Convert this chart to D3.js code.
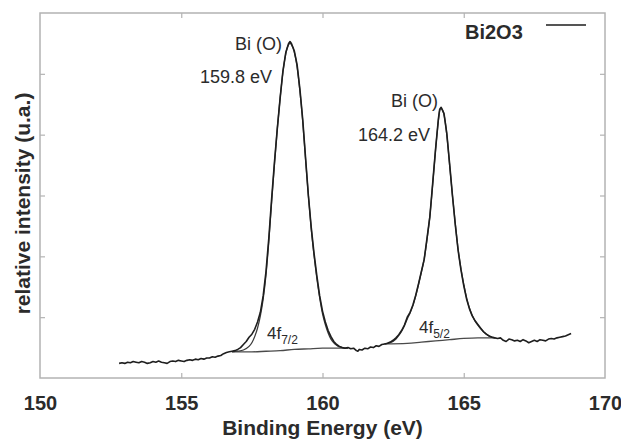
<!DOCTYPE html>
<html>
<head>
<meta charset="utf-8">
<script src="https://cdn.jsdelivr.net/npm/d3@7"></script>
<style>
html,body{margin:0;padding:0;background:#fff;}
svg{display:block;}
text{font-family:"Liberation Sans",Arial,sans-serif;fill:#2b2b2b;}
</style>
</head>
<body>
<svg id="chart" width="621" height="439"></svg>
<script>
// ---- data (binding energy eV, relative intensity) ----
const xTicks = [150, 155, 160, 165, 170];
const yTicks = [1, 2, 3, 4, 5];
const seriesName = "Bi2O3";

const rawSpectrum = [
[152.8,0.24],[152.9,0.25],[153.0,0.24],[153.1,0.26],[153.2,0.25],[153.3,0.27],[153.4,0.26],[153.5,0.25],[153.6,0.27],[153.7,0.26],[153.8,0.24],[153.9,0.25],[154.0,0.27],[154.1,0.26],[154.2,0.28],[154.3,0.26],[154.4,0.25],[154.5,0.24],[154.6,0.27],[154.7,0.28],[154.8,0.27],[154.9,0.29],[155.0,0.28],[155.1,0.27],[155.2,0.29],[155.3,0.30],[155.4,0.29],[155.5,0.31],[155.6,0.30],[155.7,0.32],[155.8,0.31],[155.9,0.33],[156.0,0.33],[156.1,0.35],[156.2,0.34],[156.3,0.36],[156.4,0.37],[156.5,0.40],[156.6,0.42],[156.7,0.43],[156.8,0.44],[156.9,0.45],[157.0,0.47],[157.1,0.50],[157.2,0.55],[157.3,0.60],[157.4,0.67],[157.5,0.72],[157.6,0.80],[157.7,0.92],[157.8,1.08],[157.9,1.35],[158.0,1.75],[158.1,2.30],[158.2,2.95],[158.3,3.55],[158.4,4.10],[158.5,4.60],[158.6,5.05],[158.7,5.35],[158.8,5.50],[158.85,5.53],[158.9,5.50],[159.0,5.38],[159.1,5.15],[159.2,4.75],[159.3,4.25],[159.4,3.62],[159.5,3.00],[159.6,2.48],[159.7,2.05],[159.8,1.68],[159.9,1.35],[160.0,1.10],[160.1,0.92],[160.2,0.78],[160.3,0.68],[160.4,0.60],[160.5,0.55],[160.6,0.52],[160.7,0.50],[160.8,0.49],[160.9,0.50],[161.0,0.48],[161.1,0.49],[161.2,0.45],[161.25,0.44],[161.3,0.47],[161.4,0.46],[161.5,0.49],[161.6,0.48],[161.7,0.51],[161.8,0.50],[161.9,0.53],[162.0,0.52],[162.1,0.55],[162.2,0.56],[162.3,0.57],[162.4,0.59],[162.5,0.62],[162.6,0.66],[162.7,0.71],[162.8,0.78],[162.9,0.87],[163.0,1.00],[163.1,1.08],[163.2,1.20],[163.3,1.36],[163.4,1.55],[163.5,1.75],[163.6,1.95],[163.7,2.30],[163.8,2.65],[163.9,3.20],[164.0,3.75],[164.1,4.25],[164.15,4.42],[164.2,4.45],[164.3,4.35],[164.4,4.02],[164.5,3.52],[164.6,3.00],[164.7,2.52],[164.8,2.10],[164.9,1.78],[165.0,1.52],[165.1,1.30],[165.2,1.14],[165.3,1.02],[165.4,0.94],[165.5,0.88],[165.6,0.82],[165.7,0.76],[165.8,0.72],[165.9,0.69],[166.0,0.67],[166.1,0.66],[166.2,0.65],[166.3,0.66],[166.4,0.62],[166.5,0.60],[166.6,0.64],[166.7,0.63],[166.8,0.61],[166.9,0.62],[167.0,0.60],[167.1,0.63],[167.2,0.61],[167.3,0.58],[167.4,0.60],[167.5,0.62],[167.6,0.60],[167.7,0.63],[167.8,0.62],[167.9,0.61],[168.0,0.64],[168.1,0.65],[168.2,0.64],[168.3,0.66],[168.4,0.67],[168.5,0.68],[168.6,0.69],[168.7,0.71],[168.8,0.73]
];

const fitPeak1 = [
[156.8,0.43],[157.0,0.44],[157.2,0.46],[157.4,0.52],[157.5,0.58],[157.6,0.68],[157.7,0.82],[157.8,1.02],[157.9,1.30],[158.0,1.70],[158.1,2.25],[158.2,2.90],[158.3,3.52],[158.4,4.10],[158.5,4.60],[158.6,5.03],[158.7,5.33],[158.8,5.48],[158.85,5.50],[158.9,5.48],[159.0,5.36],[159.1,5.12],[159.2,4.72],[159.3,4.22],[159.4,3.60],[159.5,3.00],[159.6,2.46],[159.7,2.02],[159.8,1.64],[159.9,1.32],[160.0,1.06],[160.1,0.88],[160.2,0.74],[160.3,0.64],[160.4,0.58],[160.5,0.54],[160.6,0.51],[160.7,0.50],[160.8,0.49],[160.9,0.49]
];

const fitPeak2 = [
[162.2,0.56],[162.4,0.58],[162.6,0.64],[162.7,0.70],[162.8,0.77],[162.9,0.86],[163.0,0.97],[163.1,1.07],[163.2,1.19],[163.3,1.35],[163.4,1.54],[163.5,1.74],[163.6,1.96],[163.7,2.28],[163.8,2.66],[163.9,3.18],[164.0,3.74],[164.1,4.22],[164.15,4.40],[164.2,4.43],[164.3,4.33],[164.4,4.00],[164.5,3.50],[164.6,3.00],[164.7,2.54],[164.8,2.12],[164.9,1.80],[165.0,1.54],[165.1,1.32],[165.2,1.15],[165.3,1.03],[165.4,0.94],[165.5,0.87],[165.6,0.81],[165.7,0.76],[165.8,0.72],[165.9,0.69],[166.0,0.67],[166.1,0.66]
];

const background1 = [[156.8,0.43],[157.5,0.43],[158.0,0.44],[158.5,0.45],[159.0,0.47],[159.5,0.48],[160.0,0.49],[160.9,0.49]];
const background2 = [[162.2,0.56],[163.0,0.57],[163.5,0.59],[164.0,0.61],[164.5,0.63],[165.0,0.65],[165.5,0.66],[166.1,0.66]];

const peakLabels = [
  {name: "Bi (O)", energy: "159.8 eV", be: 158.85, level: "7/2"},
  {name: "Bi (O)", energy: "164.2 eV", be: 164.2, level: "5/2"}
];

// ---- layout ----
const svg = d3.select("#chart");
const x = d3.scaleLinear().domain([150, 170]).range([40, 605]);
const y = d3.scaleLinear().domain([0, 6]).range([378, 13]);
const boxColor = "#b3b3b3";

// frame
svg.append("rect")
  .attr("x", x(150)).attr("y", y(6))
  .attr("width", x(170) - x(150)).attr("height", y(0) - y(6))
  .attr("fill", "none").attr("stroke", boxColor).attr("stroke-width", 1.5);

function styleAxis(g){
  g.select(".domain").remove();
  g.selectAll(".tick line").attr("stroke", boxColor).attr("stroke-width", 1.2);
}

const gx = svg.append("g").attr("transform", `translate(0,${y(0)})`)
  .call(d3.axisBottom(x).tickValues(xTicks).tickSizeInner(-5).tickSizeOuter(0).tickPadding(18).tickFormat(d3.format("d")));
styleAxis(gx);
gx.selectAll(".tick text").attr("font-size", 20).attr("font-weight", "bold")
  .attr("fill", "#2b2b2b").attr("font-family", "Liberation Sans, Arial, sans-serif");
gx.selectAll(".tick").filter(d => d === 150 || d === 170).select("line").remove();

const gt = svg.append("g").attr("transform", `translate(0,${y(6)})`)
  .call(d3.axisTop(x).tickValues([155,160,165]).tickSizeInner(-5).tickSizeOuter(0).tickFormat(""));
styleAxis(gt);

const gl = svg.append("g").attr("transform", `translate(${x(150)},0)`)
  .call(d3.axisLeft(y).tickValues(yTicks).tickSizeInner(-5).tickSizeOuter(0).tickFormat(""));
styleAxis(gl);
const gr = svg.append("g").attr("transform", `translate(${x(170)},0)`)
  .call(d3.axisRight(y).tickValues(yTicks).tickSizeInner(-5).tickSizeOuter(0).tickFormat(""));
styleAxis(gr);

// axis titles
svg.append("text")
  .attr("x", (x(150) + x(170)) / 2).attr("y", 435)
  .attr("text-anchor", "middle").attr("font-size", 21).attr("font-weight", "bold")
  .text("Binding Energy (eV)");
svg.append("text")
  .attr("transform", `translate(30,${(y(0) + y(6)) / 2 + 8}) rotate(-90)`)
  .attr("text-anchor", "middle").attr("font-size", 21).attr("font-weight", "bold")
  .text("relative intensity (u.a.)");

// lines
const line = d3.line().x(d => x(d[0])).y(d => y(d[1]));
const smooth = d3.line().x(d => x(d[0])).y(d => y(d[1])).curve(d3.curveMonotoneX);

[background1, background2].forEach(b => {
  svg.append("path").datum(b).attr("d", smooth)
    .attr("fill", "none").attr("stroke", "#4a4a4a").attr("stroke-width", 1.3);
});
[fitPeak1, fitPeak2].forEach(f => {
  svg.append("path").datum(f).attr("d", smooth)
    .attr("fill", "none").attr("stroke", "#3a3a3a").attr("stroke-width", 1.3);
});
svg.append("path").datum(rawSpectrum).attr("d", line)
  .attr("fill", "none").attr("stroke", "#1e1e1e").attr("stroke-width", 1.6)
  .attr("stroke-linejoin", "round");

// peak annotations
const ann = [
  {nx: 282, ny: 50, ex: 272, ey: 83},
  {nx: 438, ny: 107, ex: 430, ey: 141}
];
peakLabels.forEach((p, i) => {
  svg.append("text").attr("x", ann[i].nx).attr("y", ann[i].ny)
    .attr("text-anchor", "end").attr("font-size", 18).text(p.name);
  svg.append("text").attr("x", ann[i].ex).attr("y", ann[i].ey)
    .attr("text-anchor", "end").attr("font-size", 18).text(p.energy);
});

// 4f labels
const orb = [{x: 267, y: 339}, {x: 419, y: 333}];
peakLabels.forEach((p, i) => {
  const t = svg.append("text").attr("x", orb[i].x).attr("y", orb[i].y)
    .attr("font-size", 17).attr("fill", "#3a3a3a");
  t.append("tspan").text("4f");
  t.append("tspan").attr("font-size", 12).attr("dy", 5).text(p.level);
});

// legend
svg.append("text").attr("x", 465).attr("y", 39)
  .attr("font-size", 20).attr("font-weight", "bold").text(seriesName);
svg.append("line").attr("x1", 546).attr("x2", 586).attr("y1", 25).attr("y2", 25)
  .attr("stroke", "#555").attr("stroke-width", 2);
</script>
</body>
</html>
